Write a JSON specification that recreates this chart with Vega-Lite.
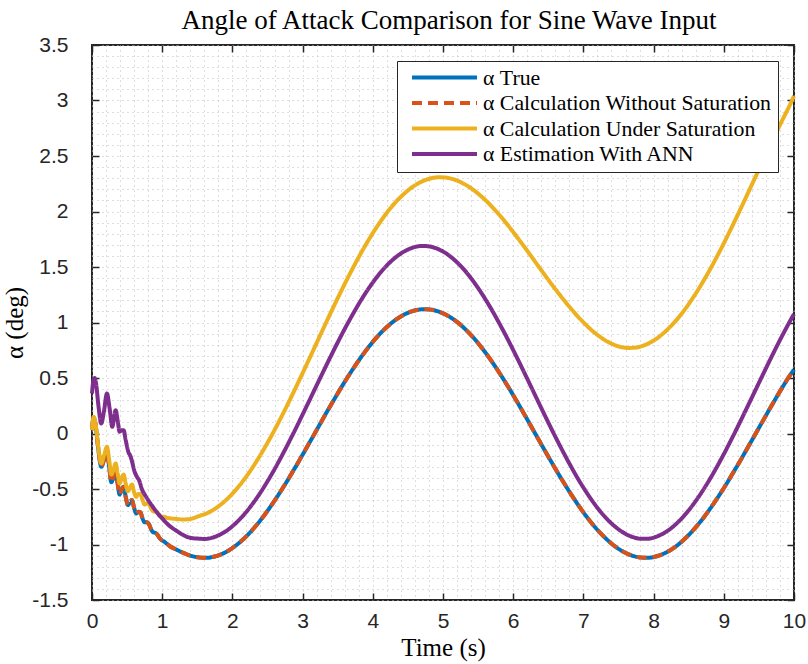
{
"$schema": "https://vega.github.io/schema/vega-lite/v6.json",
"width": 702, "height": 555,
"autosize": "none",
"padding": {"left": 92, "top": 45, "right": 14, "bottom": 64},
"background": "white",
"config": {"view": {"stroke": "#262626", "strokeWidth": 2}},
"title": {"text": "Angle of Attack Comparison for Sine Wave Input", "font": "Liberation Serif", "fontSize": 27, "fontWeight": "normal", "color": "black", "offset": -1, "dx": 6, "anchor": "middle"},
"data": {"values": [
{"series":"true","t":0,"alpha":0.03},{"series":"true","t":0.023,"alpha":0.145},{"series":"true","t":0.05,"alpha":0.08},{"series":"true","t":0.09,"alpha":-0.14},{"series":"true","t":0.132,"alpha":-0.30},{"series":"true","t":0.17,"alpha":-0.24},{"series":"true","t":0.213,"alpha":-0.17},{"series":"true","t":0.245,"alpha":-0.30},{"series":"true","t":0.275,"alpha":-0.44},{"series":"true","t":0.305,"alpha":-0.40},{"series":"true","t":0.336,"alpha":-0.35},{"series":"true","t":0.365,"alpha":-0.45},{"series":"true","t":0.393,"alpha":-0.55},{"series":"true","t":0.42,"alpha":-0.51},{"series":"true","t":0.45,"alpha":-0.48},{"series":"true","t":0.48,"alpha":-0.57},{"series":"true","t":0.512,"alpha":-0.645},{"series":"true","t":0.54,"alpha":-0.62},{"series":"true","t":0.569,"alpha":-0.60},{"series":"true","t":0.60,"alpha":-0.67},{"series":"true","t":0.63,"alpha":-0.72},{"series":"true","t":0.66,"alpha":-0.705},{"series":"true","t":0.69,"alpha":-0.71},{"series":"true","t":0.72,"alpha":-0.765},{"series":"true","t":0.75,"alpha":-0.80},{"series":"true","t":0.78,"alpha":-0.80},{"series":"true","t":0.81,"alpha":-0.815},{"series":"true","t":0.84,"alpha":-0.86},{"series":"true","t":0.87,"alpha":-0.89},{"series":"true","t":0.90,"alpha":-0.895},{"series":"true","t":0.93,"alpha":-0.91},{"series":"true","t":0.96,"alpha":-0.94},{"series":"true","t":0.99,"alpha":-0.96},{"series":"true","t":1.03,"alpha":-0.975},{"series":"true","t":1.07,"alpha":-0.995},{"series":"true","t":1.12,"alpha":-1.02},{"series":"true","t":1.2,"alpha":-1.045},{"series":"true","t":1.3,"alpha":-1.075},{"series":"true","t":1.4,"alpha":-1.10},
{"series":"true","t":1.53,"alpha":-1.117},{"series":"true","t":1.63,"alpha":-1.120},{"series":"true","t":1.73,"alpha":-1.111},{"series":"true","t":1.83,"alpha":-1.091},{"series":"true","t":1.93,"alpha":-1.060},{"series":"true","t":2.03,"alpha":-1.018},{"series":"true","t":2.13,"alpha":-0.967},{"series":"true","t":2.23,"alpha":-0.906},{"series":"true","t":2.33,"alpha":-0.835},{"series":"true","t":2.43,"alpha":-0.757},{"series":"true","t":2.53,"alpha":-0.670},{"series":"true","t":2.63,"alpha":-0.577},{"series":"true","t":2.73,"alpha":-0.479},{"series":"true","t":2.83,"alpha":-0.375},{"series":"true","t":2.93,"alpha":-0.268},{"series":"true","t":3.03,"alpha":-0.158},{"series":"true","t":3.13,"alpha":-0.047},{"series":"true","t":3.23,"alpha":0.065},{"series":"true","t":3.33,"alpha":0.177},{"series":"true","t":3.43,"alpha":0.286},{"series":"true","t":3.53,"alpha":0.393},{"series":"true","t":3.63,"alpha":0.496},{"series":"true","t":3.73,"alpha":0.593},{"series":"true","t":3.83,"alpha":0.685},{"series":"true","t":3.93,"alpha":0.770},{"series":"true","t":4.03,"alpha":0.848},{"series":"true","t":4.13,"alpha":0.917},{"series":"true","t":4.23,"alpha":0.976},{"series":"true","t":4.33,"alpha":1.026},{"series":"true","t":4.43,"alpha":1.066},{"series":"true","t":4.53,"alpha":1.095},{"series":"true","t":4.63,"alpha":1.113},{"series":"true","t":4.73,"alpha":1.120},{"series":"true","t":4.83,"alpha":1.116},{"series":"true","t":4.93,"alpha":1.100},{"series":"true","t":5.03,"alpha":1.074},{"series":"true","t":5.13,"alpha":1.037},{"series":"true","t":5.23,"alpha":0.990},{"series":"true","t":5.33,"alpha":0.932},{"series":"true","t":5.43,"alpha":0.866},{"series":"true","t":5.53,"alpha":0.790},{"series":"true","t":5.63,"alpha":0.707},{"series":"true","t":5.73,"alpha":0.617},{"series":"true","t":5.83,"alpha":0.520},{"series":"true","t":5.93,"alpha":0.419},{"series":"true","t":6.03,"alpha":0.313},{"series":"true","t":6.13,"alpha":0.204},{"series":"true","t":6.23,"alpha":0.093},{"series":"true","t":6.33,"alpha":-0.019},{"series":"true","t":6.43,"alpha":-0.131},{"series":"true","t":6.53,"alpha":-0.241},{"series":"true","t":6.63,"alpha":-0.349},{"series":"true","t":6.73,"alpha":-0.453},{"series":"true","t":6.83,"alpha":-0.553},{"series":"true","t":6.93,"alpha":-0.648},{"series":"true","t":7.03,"alpha":-0.736},{"series":"true","t":7.13,"alpha":-0.817},{"series":"true","t":7.23,"alpha":-0.889},{"series":"true","t":7.33,"alpha":-0.952},{"series":"true","t":7.43,"alpha":-1.007},{"series":"true","t":7.53,"alpha":-1.051},{"series":"true","t":7.63,"alpha":-1.084},{"series":"true","t":7.73,"alpha":-1.107},{"series":"true","t":7.83,"alpha":-1.118},{"series":"true","t":7.93,"alpha":-1.119},{"series":"true","t":8.03,"alpha":-1.108},{"series":"true","t":8.13,"alpha":-1.086},{"series":"true","t":8.23,"alpha":-1.054},{"series":"true","t":8.33,"alpha":-1.011},{"series":"true","t":8.43,"alpha":-0.957},{"series":"true","t":8.53,"alpha":-0.894},{"series":"true","t":8.63,"alpha":-0.823},{"series":"true","t":8.73,"alpha":-0.743},{"series":"true","t":8.83,"alpha":-0.655},{"series":"true","t":8.93,"alpha":-0.561},{"series":"true","t":9.03,"alpha":-0.462},{"series":"true","t":9.13,"alpha":-0.357},{"series":"true","t":9.23,"alpha":-0.250},{"series":"true","t":9.33,"alpha":-0.139},{"series":"true","t":9.43,"alpha":-0.028},{"series":"true","t":9.53,"alpha":0.084},{"series":"true","t":9.63,"alpha":0.195},{"series":"true","t":9.73,"alpha":0.304},{"series":"true","t":9.83,"alpha":0.411},{"series":"true","t":9.93,"alpha":0.512},{"series":"true","t":10.0,"alpha":0.575},
{"series":"sat","t":0,"alpha":0.03},{"series":"sat","t":0.023,"alpha":0.15},{"series":"sat","t":0.05,"alpha":0.09},{"series":"sat","t":0.09,"alpha":-0.12},{"series":"sat","t":0.132,"alpha":-0.27},{"series":"sat","t":0.17,"alpha":-0.2},{"series":"sat","t":0.213,"alpha":-0.12},{"series":"sat","t":0.245,"alpha":-0.24},{"series":"sat","t":0.275,"alpha":-0.37},{"series":"sat","t":0.305,"alpha":-0.33},{"series":"sat","t":0.336,"alpha":-0.27},{"series":"sat","t":0.365,"alpha":-0.36},{"series":"sat","t":0.393,"alpha":-0.45},{"series":"sat","t":0.42,"alpha":-0.41},{"series":"sat","t":0.45,"alpha":-0.37},{"series":"sat","t":0.48,"alpha":-0.45},{"series":"sat","t":0.512,"alpha":-0.52},{"series":"sat","t":0.54,"alpha":-0.49},{"series":"sat","t":0.569,"alpha":-0.46},{"series":"sat","t":0.60,"alpha":-0.53},{"series":"sat","t":0.63,"alpha":-0.57},{"series":"sat","t":0.66,"alpha":-0.545},{"series":"sat","t":0.69,"alpha":-0.545},{"series":"sat","t":0.72,"alpha":-0.60},{"series":"sat","t":0.75,"alpha":-0.64},{"series":"sat","t":0.78,"alpha":-0.63},{"series":"sat","t":0.81,"alpha":-0.635},{"series":"sat","t":0.84,"alpha":-0.675},{"series":"sat","t":0.87,"alpha":-0.70},{"series":"sat","t":0.90,"alpha":-0.705},{"series":"sat","t":0.93,"alpha":-0.71},{"series":"sat","t":0.96,"alpha":-0.74},{"series":"sat","t":0.99,"alpha":-0.75},{"series":"sat","t":1.03,"alpha":-0.75},{"series":"sat","t":1.07,"alpha":-0.76},{"series":"sat","t":1.12,"alpha":-0.765},{"series":"sat","t":1.2,"alpha":-0.77},{"series":"sat","t":1.3,"alpha":-0.775},{"series":"sat","t":1.4,"alpha":-0.77},
{"series":"sat","t":1.53,"alpha":-0.742},{"series":"sat","t":1.63,"alpha":-0.720},{"series":"sat","t":1.73,"alpha":-0.687},{"series":"sat","t":1.83,"alpha":-0.642},{"series":"sat","t":1.93,"alpha":-0.587},{"series":"sat","t":2.03,"alpha":-0.521},{"series":"sat","t":2.13,"alpha":-0.445},{"series":"sat","t":2.23,"alpha":-0.359},{"series":"sat","t":2.33,"alpha":-0.264},{"series":"sat","t":2.43,"alpha":-0.161},{"series":"sat","t":2.53,"alpha":-0.050},{"series":"sat","t":2.63,"alpha":0.067},{"series":"sat","t":2.73,"alpha":0.190},{"series":"sat","t":2.83,"alpha":0.318},{"series":"sat","t":2.93,"alpha":0.450},{"series":"sat","t":3.03,"alpha":0.584},{"series":"sat","t":3.13,"alpha":0.720},{"series":"sat","t":3.23,"alpha":0.857},{"series":"sat","t":3.33,"alpha":0.993},{"series":"sat","t":3.43,"alpha":1.127},{"series":"sat","t":3.53,"alpha":1.258},{"series":"sat","t":3.63,"alpha":1.385},{"series":"sat","t":3.73,"alpha":1.507},{"series":"sat","t":3.83,"alpha":1.624},{"series":"sat","t":3.93,"alpha":1.733},{"series":"sat","t":4.03,"alpha":1.835},{"series":"sat","t":4.13,"alpha":1.928},{"series":"sat","t":4.23,"alpha":2.013},{"series":"sat","t":4.33,"alpha":2.087},{"series":"sat","t":4.43,"alpha":2.151},{"series":"sat","t":4.53,"alpha":2.205},{"series":"sat","t":4.63,"alpha":2.247},{"series":"sat","t":4.73,"alpha":2.279},{"series":"sat","t":4.83,"alpha":2.299},{"series":"sat","t":4.93,"alpha":2.308},{"series":"sat","t":5.03,"alpha":2.306},{"series":"sat","t":5.13,"alpha":2.294},{"series":"sat","t":5.23,"alpha":2.271},{"series":"sat","t":5.33,"alpha":2.238},{"series":"sat","t":5.43,"alpha":2.196},{"series":"sat","t":5.53,"alpha":2.145},{"series":"sat","t":5.63,"alpha":2.087},{"series":"sat","t":5.73,"alpha":2.021},{"series":"sat","t":5.83,"alpha":1.949},{"series":"sat","t":5.93,"alpha":1.872},{"series":"sat","t":6.03,"alpha":1.790},{"series":"sat","t":6.13,"alpha":1.706},{"series":"sat","t":6.23,"alpha":1.620},{"series":"sat","t":6.33,"alpha":1.532},{"series":"sat","t":6.43,"alpha":1.445},{"series":"sat","t":6.53,"alpha":1.359},{"series":"sat","t":6.63,"alpha":1.276},{"series":"sat","t":6.73,"alpha":1.196},{"series":"sat","t":6.83,"alpha":1.120},{"series":"sat","t":6.93,"alpha":1.048},{"series":"sat","t":7.03,"alpha":0.983},{"series":"sat","t":7.13,"alpha":0.924},{"series":"sat","t":7.23,"alpha":0.874},{"series":"sat","t":7.33,"alpha":0.832},{"series":"sat","t":7.43,"alpha":0.801},{"series":"sat","t":7.53,"alpha":0.780},{"series":"sat","t":7.63,"alpha":0.771},{"series":"sat","t":7.73,"alpha":0.773},{"series":"sat","t":7.83,"alpha":0.787},{"series":"sat","t":7.93,"alpha":0.812},{"series":"sat","t":8.03,"alpha":0.849},{"series":"sat","t":8.13,"alpha":0.898},{"series":"sat","t":8.23,"alpha":0.957},{"series":"sat","t":8.33,"alpha":1.026},{"series":"sat","t":8.43,"alpha":1.105},{"series":"sat","t":8.53,"alpha":1.194},{"series":"sat","t":8.63,"alpha":1.291},{"series":"sat","t":8.73,"alpha":1.396},{"series":"sat","t":8.83,"alpha":1.508},{"series":"sat","t":8.93,"alpha":1.627},{"series":"sat","t":9.03,"alpha":1.751},{"series":"sat","t":9.13,"alpha":1.880},{"series":"sat","t":9.23,"alpha":2.012},{"series":"sat","t":9.33,"alpha":2.147},{"series":"sat","t":9.43,"alpha":2.283},{"series":"sat","t":9.53,"alpha":2.419},{"series":"sat","t":9.63,"alpha":2.555},{"series":"sat","t":9.73,"alpha":2.688},{"series":"sat","t":9.83,"alpha":2.819},{"series":"sat","t":9.93,"alpha":2.945},{"series":"sat","t":10.0,"alpha":3.04},
{"series":"ann","t":0,"alpha":0.36},{"series":"ann","t":0.018,"alpha":0.47},{"series":"ann","t":0.037,"alpha":0.50},{"series":"ann","t":0.06,"alpha":0.44},{"series":"ann","t":0.09,"alpha":0.26},{"series":"ann","t":0.132,"alpha":0.09},{"series":"ann","t":0.17,"alpha":0.2},{"series":"ann","t":0.213,"alpha":0.36},{"series":"ann","t":0.25,"alpha":0.23},{"series":"ann","t":0.289,"alpha":0.06},{"series":"ann","t":0.31,"alpha":0.12},{"series":"ann","t":0.336,"alpha":0.21},{"series":"ann","t":0.365,"alpha":0.12},{"series":"ann","t":0.393,"alpha":0.016},{"series":"ann","t":0.42,"alpha":0.03},{"series":"ann","t":0.45,"alpha":0.03},{"series":"ann","t":0.48,"alpha":-0.06},{"series":"ann","t":0.52,"alpha":-0.17},{"series":"ann","t":0.545,"alpha":-0.2},{"series":"ann","t":0.57,"alpha":-0.25},{"series":"ann","t":0.60,"alpha":-0.33},{"series":"ann","t":0.64,"alpha":-0.39},{"series":"ann","t":0.67,"alpha":-0.42},{"series":"ann","t":0.71,"alpha":-0.50},{"series":"ann","t":0.76,"alpha":-0.56},{"series":"ann","t":0.81,"alpha":-0.61},{"series":"ann","t":0.86,"alpha":-0.655},{"series":"ann","t":0.90,"alpha":-0.69},{"series":"ann","t":0.95,"alpha":-0.73},{"series":"ann","t":1.0,"alpha":-0.765},{"series":"ann","t":1.1,"alpha":-0.83},{"series":"ann","t":1.2,"alpha":-0.875},{"series":"ann","t":1.3,"alpha":-0.915},{"series":"ann","t":1.4,"alpha":-0.94},
{"series":"ann","t":1.51,"alpha":-0.947},{"series":"ann","t":1.61,"alpha":-0.950},{"series":"ann","t":1.71,"alpha":-0.939},{"series":"ann","t":1.81,"alpha":-0.915},{"series":"ann","t":1.91,"alpha":-0.879},{"series":"ann","t":2.01,"alpha":-0.830},{"series":"ann","t":2.11,"alpha":-0.769},{"series":"ann","t":2.21,"alpha":-0.697},{"series":"ann","t":2.31,"alpha":-0.614},{"series":"ann","t":2.41,"alpha":-0.522},{"series":"ann","t":2.51,"alpha":-0.420},{"series":"ann","t":2.61,"alpha":-0.311},{"series":"ann","t":2.71,"alpha":-0.194},{"series":"ann","t":2.81,"alpha":-0.072},{"series":"ann","t":2.91,"alpha":0.054},{"series":"ann","t":3.01,"alpha":0.184},{"series":"ann","t":3.11,"alpha":0.315},{"series":"ann","t":3.21,"alpha":0.447},{"series":"ann","t":3.31,"alpha":0.578},{"series":"ann","t":3.41,"alpha":0.707},{"series":"ann","t":3.51,"alpha":0.833},{"series":"ann","t":3.61,"alpha":0.954},{"series":"ann","t":3.71,"alpha":1.069},{"series":"ann","t":3.81,"alpha":1.178},{"series":"ann","t":3.91,"alpha":1.278},{"series":"ann","t":4.01,"alpha":1.369},{"series":"ann","t":4.11,"alpha":1.450},{"series":"ann","t":4.21,"alpha":1.521},{"series":"ann","t":4.31,"alpha":1.579},{"series":"ann","t":4.41,"alpha":1.626},{"series":"ann","t":4.51,"alpha":1.660},{"series":"ann","t":4.61,"alpha":1.682},{"series":"ann","t":4.71,"alpha":1.690},{"series":"ann","t":4.81,"alpha":1.685},{"series":"ann","t":4.91,"alpha":1.667},{"series":"ann","t":5.01,"alpha":1.636},{"series":"ann","t":5.11,"alpha":1.592},{"series":"ann","t":5.21,"alpha":1.536},{"series":"ann","t":5.31,"alpha":1.469},{"series":"ann","t":5.41,"alpha":1.390},{"series":"ann","t":5.51,"alpha":1.301},{"series":"ann","t":5.61,"alpha":1.203},{"series":"ann","t":5.71,"alpha":1.097},{"series":"ann","t":5.81,"alpha":0.983},{"series":"ann","t":5.91,"alpha":0.864},{"series":"ann","t":6.01,"alpha":0.739},{"series":"ann","t":6.11,"alpha":0.611},{"series":"ann","t":6.21,"alpha":0.480},{"series":"ann","t":6.31,"alpha":0.348},{"series":"ann","t":6.41,"alpha":0.216},{"series":"ann","t":6.51,"alpha":0.086},{"series":"ann","t":6.61,"alpha":-0.041},{"series":"ann","t":6.71,"alpha":-0.164},{"series":"ann","t":6.81,"alpha":-0.282},{"series":"ann","t":6.91,"alpha":-0.394},{"series":"ann","t":7.01,"alpha":-0.497},{"series":"ann","t":7.11,"alpha":-0.592},{"series":"ann","t":7.21,"alpha":-0.678},{"series":"ann","t":7.31,"alpha":-0.753},{"series":"ann","t":7.41,"alpha":-0.816},{"series":"ann","t":7.51,"alpha":-0.868},{"series":"ann","t":7.61,"alpha":-0.908},{"series":"ann","t":7.71,"alpha":-0.934},{"series":"ann","t":7.81,"alpha":-0.948},{"series":"ann","t":7.91,"alpha":-0.949},{"series":"ann","t":8.01,"alpha":-0.936},{"series":"ann","t":8.11,"alpha":-0.910},{"series":"ann","t":8.21,"alpha":-0.872},{"series":"ann","t":8.31,"alpha":-0.821},{"series":"ann","t":8.41,"alpha":-0.758},{"series":"ann","t":8.51,"alpha":-0.684},{"series":"ann","t":8.61,"alpha":-0.599},{"series":"ann","t":8.71,"alpha":-0.505},{"series":"ann","t":8.81,"alpha":-0.402},{"series":"ann","t":8.91,"alpha":-0.291},{"series":"ann","t":9.01,"alpha":-0.174},{"series":"ann","t":9.11,"alpha":-0.051},{"series":"ann","t":9.21,"alpha":0.076},{"series":"ann","t":9.31,"alpha":0.206},{"series":"ann","t":9.41,"alpha":0.337},{"series":"ann","t":9.51,"alpha":0.469},{"series":"ann","t":9.61,"alpha":0.600},{"series":"ann","t":9.71,"alpha":0.729},{"series":"ann","t":9.81,"alpha":0.854},{"series":"ann","t":9.91,"alpha":0.974},{"series":"ann","t":10.0,"alpha":1.077}
]},
"layer": [
{"transform": [{"filter": "datum.series === 'true'"}],
 "mark": {"type": "line", "strokeWidth": 4, "interpolate": "monotone"},
 "encoding": {
  "x": {"field": "t", "type": "quantitative", "scale": {"domain": [0, 10], "nice": false, "zero": false},
   "axis": {"orient": "bottom", "values": [0,0.2,0.4,0.6,0.8,1,1.2,1.4,1.6,1.8,2,2.2,2.4,2.6,2.8,3,3.2,3.4,3.6,3.8,4,4.2,4.4,4.6,4.8,5,5.2,5.4,5.6,5.8,6,6.2,6.4,6.6,6.8,7,7.2,7.4,7.6,7.8,8,8.2,8.4,8.6,8.8,9,9.2,9.4,9.6,9.8,10],
    "grid": true, "gridDash": [1, 4], "gridColor": "#bdbdbd", "gridWidth": 1,
    "ticks": true, "tickSize": -7, "tickWidth": 1.5, "tickColor": "#262626",
    "tickOpacity": {"condition": {"test": "datum.value % 1 === 0", "value": 1}, "value": 0},
    "labelExpr": "datum.value % 1 === 0 ? '' + datum.value : ''",
    "labelFont": "Liberation Sans", "labelFontSize": 21, "labelColor": "#262626", "labelPadding": 17, "labelFlush": false, "labelOverlap": false,
    "domain": false, "title": "Time (s)", "titleFont": "Liberation Serif", "titleFontSize": 25, "titleFontWeight": "normal", "titleColor": "black", "titlePadding": 4}},
  "y": {"field": "alpha", "type": "quantitative", "scale": {"domain": [-1.5, 3.5], "nice": false, "zero": false},
   "axis": {"orient": "left", "values": [-1.5,-1.4,-1.3,-1.2,-1.1,-1,-0.9,-0.8,-0.7,-0.6,-0.5,-0.4,-0.3,-0.2,-0.1,0,0.1,0.2,0.3,0.4,0.5,0.6,0.7,0.8,0.9,1,1.1,1.2,1.3,1.4,1.5,1.6,1.7,1.8,1.9,2,2.1,2.2,2.3,2.4,2.5,2.6,2.7,2.8,2.9,3,3.1,3.2,3.3,3.4,3.5],
    "grid": true, "gridDash": [1, 4], "gridColor": "#bdbdbd", "gridWidth": 1,
    "ticks": true, "tickSize": -7, "tickWidth": 1.5, "tickColor": "#262626",
    "tickOpacity": {"condition": {"test": "datum.value * 2 % 1 === 0", "value": 1}, "value": 0},
    "labelExpr": "datum.value * 2 % 1 === 0 ? '' + datum.value : ''",
    "labelFont": "Liberation Sans", "labelFontSize": 21, "labelColor": "#262626", "labelPadding": 31, "labelFlush": false, "labelOverlap": false,
    "domain": false, "title": "α (deg)", "titleFont": "Liberation Serif", "titleFontSize": 25, "titleFontWeight": "normal", "titleColor": "black", "titlePadding": 4}},
  "color": {"datum": "α True", "type": "nominal",
   "scale": {"domain": ["α True", "α Calculation Without Saturation", "α Calculation Under Saturation", "α Estimation With ANN"], "range": ["#0072BD", "#D95319", "#EDB120", "#7E2F8E"]},
   "legend": {"title": null, "orient": "none", "legendX": 305, "legendY": 16, "fillColor": "white", "strokeColor": "#262626", "padding": 6, "symbolType": "stroke", "symbolSize": 4225, "symbolStrokeWidth": 4, "symbolOffset": 7, "clipHeight": 21, "labelFont": "Liberation Serif", "labelFontSize": 21.8, "labelColor": "black", "labelLimit": 0, "labelOffset": 4, "rowPadding": 2.5}},
  "strokeDash": {"datum": "α True", "type": "nominal",
   "scale": {"domain": ["α True", "α Calculation Without Saturation", "α Calculation Under Saturation", "α Estimation With ANN"], "range": [[1, 0], [10, 6], [1, 0], [1, 0]]},
   "legend": {"title": null, "orient": "none", "legendX": 305, "legendY": 16, "fillColor": "white", "strokeColor": "#262626", "padding": 6, "symbolType": "stroke", "symbolSize": 4225, "symbolStrokeWidth": 4, "symbolOffset": 7, "clipHeight": 21, "labelFont": "Liberation Serif", "labelFontSize": 21.8, "labelColor": "black", "labelLimit": 0, "labelOffset": 4, "rowPadding": 2.5}}
 }},
{"transform": [{"filter": "datum.series === 'true'"}],
 "mark": {"type": "line", "strokeWidth": 4, "interpolate": "monotone"},
 "encoding": {
  "x": {"field": "t", "type": "quantitative", "axis": null},
  "y": {"field": "alpha", "type": "quantitative", "axis": null},
  "color": {"datum": "α Calculation Without Saturation", "type": "nominal"},
  "strokeDash": {"datum": "α Calculation Without Saturation", "type": "nominal"}
 }},
{"transform": [{"filter": "datum.series === 'sat'"}],
 "mark": {"type": "line", "strokeWidth": 4, "interpolate": "monotone"},
 "encoding": {
  "x": {"field": "t", "type": "quantitative", "axis": null},
  "y": {"field": "alpha", "type": "quantitative", "axis": null},
  "color": {"datum": "α Calculation Under Saturation", "type": "nominal"},
  "strokeDash": {"datum": "α Calculation Under Saturation", "type": "nominal"}
 }},
{"transform": [{"filter": "datum.series === 'ann'"}],
 "mark": {"type": "line", "strokeWidth": 4, "interpolate": "monotone"},
 "encoding": {
  "x": {"field": "t", "type": "quantitative", "axis": null},
  "y": {"field": "alpha", "type": "quantitative", "axis": null},
  "color": {"datum": "α Estimation With ANN", "type": "nominal"},
  "strokeDash": {"datum": "α Estimation With ANN", "type": "nominal"}
 }},
{"transform": [{"filter": "datum.series === 'true'"}],
 "mark": {"type": "line", "opacity": 0},
 "encoding": {
  "x": {"field": "t", "type": "quantitative",
   "axis": {"orient": "top", "values": [0,1,2,3,4,5,6,7,8,9,10], "grid": false, "labels": false, "domain": false, "title": null, "ticks": true, "tickSize": -7, "tickWidth": 1.5, "tickColor": "#262626"}},
  "y": {"field": "alpha", "type": "quantitative",
   "axis": {"orient": "right", "values": [-1.5,-1,-0.5,0,0.5,1,1.5,2,2.5,3,3.5], "grid": false, "labels": false, "domain": false, "title": null, "ticks": true, "tickSize": -7, "tickWidth": 1.5, "tickColor": "#262626"}}
 }}
]
}
